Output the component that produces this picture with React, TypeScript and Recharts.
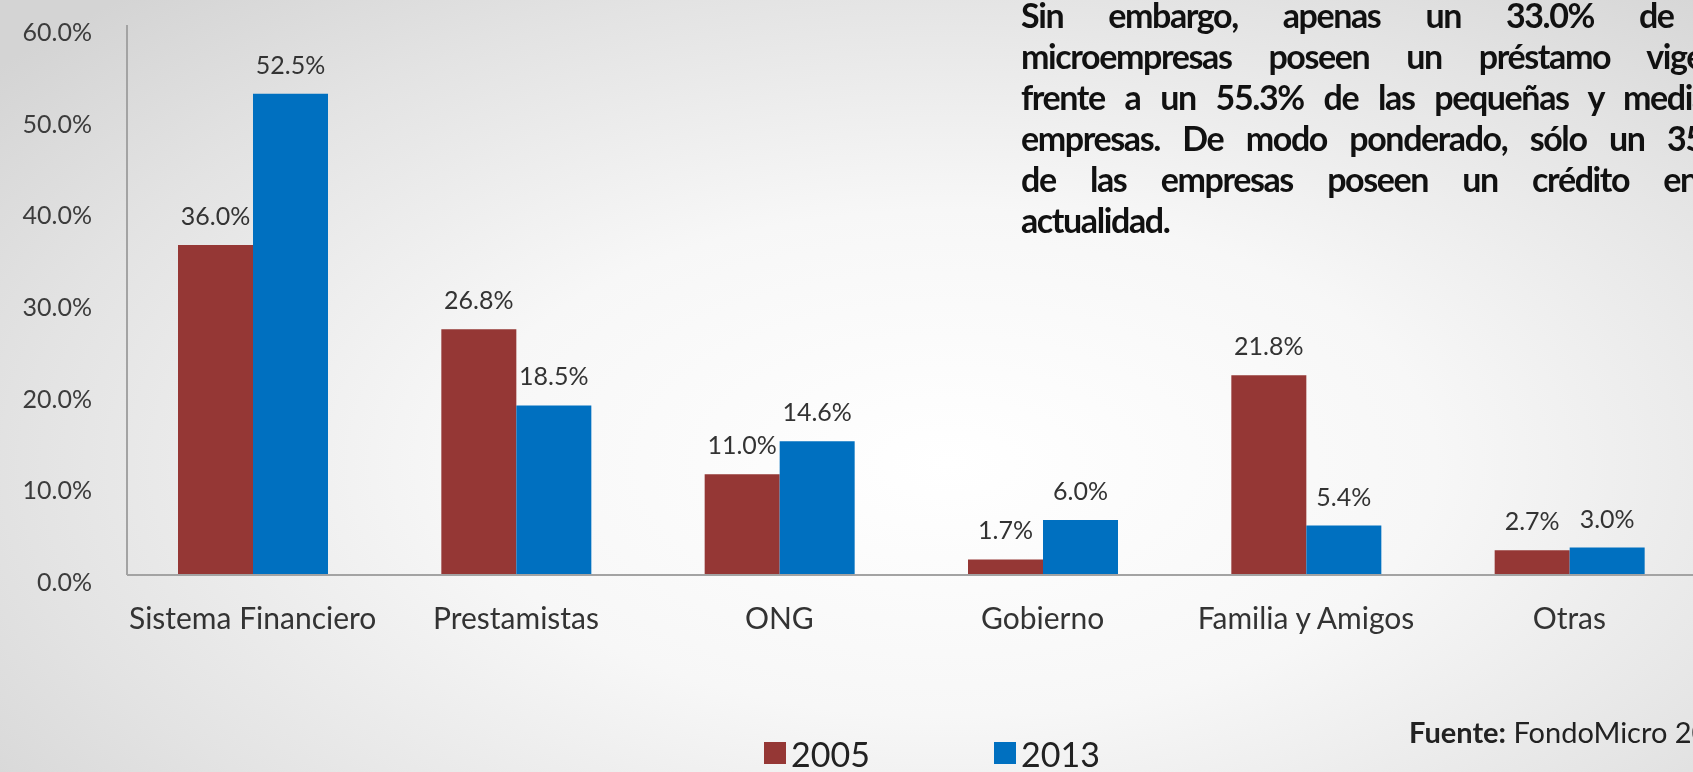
import { Bar, BarChart, LabelList, Legend, XAxis, YAxis } from "recharts";

const categories = ["Sistema Financiero", "Prestamistas", "ONG", "Gobierno", "Familia y Amigos", "Otras"];
const values2005 = [36.0, 26.8, 11.0, 1.7, 21.8, 2.7];
const values2013 = [52.5, 18.5, 14.6, 6.0, 5.4, 3.0];
const yTicks = [0, 10, 20, 30, 40, 50, 60];

const noteLines = [
  "Sin embargo, apenas un 33.0% de las",
  "microempresas poseen un préstamo vigente,",
  "frente a un 55.3% de las pequeñas y medianas",
  "empresas. De modo ponderado, sólo un 35.0%",
  "de las empresas poseen un crédito en la",
];
const noteLastLine = "actualidad.";

const RED = "#953735";
const BLUE = "#0070C0";
const AXIS = "#a3a3a3";
const FONT = "Lato, 'Noto Sans', sans-serif";

const rows = categories.map((name, i) => ({ name, y2005: values2005[i], y2013: values2013[i] }));

const pct = (v: number | string) => `${Number(v).toFixed(1)}%`;

function YTick({ x, y, payload }: any) {
  return (
    <text x={x} y={y} dy={6} textAnchor="end" dominantBaseline="central" fontSize={25} fill="#3c3c3c" fontFamily={FONT}>
      {pct(payload.value)}
    </text>
  );
}

function LegendBox({ payload }: any) {
  return (
    <div style={{ display: "flex", alignItems: "center", height: 38, fontFamily: FONT, fontSize: 34, color: "#222" }}>
      {(payload ?? []).map((item: any) => (
        <div key={item.value} style={{ display: "flex", alignItems: "center", width: 230 }}>
          <span style={{ width: 22, height: 22, background: item.color, marginRight: 5, display: "inline-block" }} />
          <span>{item.value}</span>
        </div>
      ))}
    </div>
  );
}

export default function App() {
  return (
    <div
      style={{
        position: "fixed",
        left: 0,
        top: 0,
        width: 1693,
        height: 772,
        overflow: "hidden",
        background:
          "radial-gradient(ellipse 72% 82% at 56% 60%, #ffffff 0%, #f7f7f7 40%, #e3e3e3 76%, #d4d4d4 100%)",
        fontFamily: FONT,
      }}
    >
      <BarChart
        width={1710}
        height={772}
        data={rows}
        margin={{ top: 25, right: 9, bottom: 117, left: 0 }}
        barGap={0}
        barSize={75}
      >
        <XAxis
          dataKey="name"
          height={80}
          padding={{ left: -6, right: 0 }}
          tickLine={false}
          tickSize={6}
          tickMargin={27}
          axisLine={{ stroke: AXIS, strokeWidth: 2 }}
          tick={{ fontSize: 30, fill: "#333", fontFamily: FONT }}
          interval={0}
        />
        <YAxis
          width={127}
          domain={[0, 60]}
          ticks={yTicks}
          tickLine={false}
          tickSize={6}
          tickMargin={29}
          axisLine={{ stroke: AXIS, strokeWidth: 2 }}
          tick={<YTick />}
        />
        <Legend
          layout="horizontal"
          verticalAlign="middle"
          align="center"
          content={<LegendBox />}
          wrapperStyle={{ left: 764, top: 734, width: 520, height: 38 }}
        />
        <Bar dataKey="y2005" name="2005" fill={RED} isAnimationActive={false}>
          <LabelList dataKey="y2005" position="top" offset={20} formatter={pct} fontSize={25} fill="#333" fontFamily={FONT} />
        </Bar>
        <Bar dataKey="y2013" name="2013" fill={BLUE} isAnimationActive={false}>
          <LabelList dataKey="y2013" position="top" offset={20} formatter={pct} fontSize={25} fill="#333" fontFamily={FONT} />
        </Bar>
      </BarChart>

      <div
        style={{
          position: "absolute",
          left: 1021,
          top: -6,
          width: 734,
          fontSize: 34,
          letterSpacing: -1.4,
          fontWeight: 700,
          color: "#111",
          lineHeight: "41px",
        }}
      >
        {noteLines.map((line) => (
          <div key={line} style={{ textAlign: "justify", textAlignLast: "justify", height: 41 }}>
            {line}
          </div>
        ))}
        <div style={{ height: 41 }}>{noteLastLine}</div>
      </div>

      <div style={{ position: "absolute", left: 1409, top: 714, fontSize: 29, lineHeight: "36px", color: "#222", whiteSpace: "nowrap" }}>
        <b>Fuente:</b> FondoMicro 2013
      </div>
    </div>
  );
}
